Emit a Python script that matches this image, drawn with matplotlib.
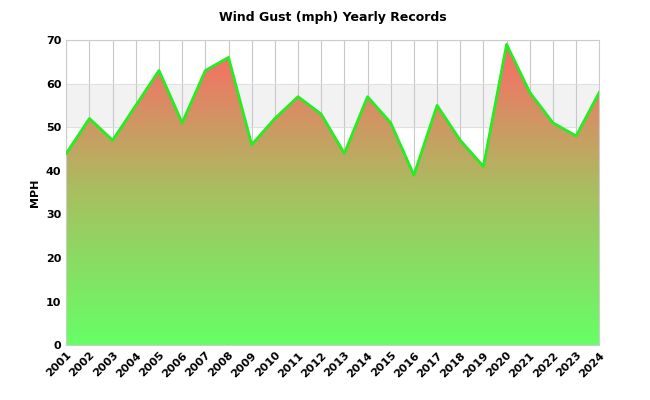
import matplotlib
matplotlib.use("Agg")
import matplotlib.pyplot as plt
import numpy as np
from matplotlib.colors import LinearSegmentedColormap
from matplotlib.patches import Polygon

years = list(range(2001, 2025))
values = [44, 52, 47, 55, 63, 51, 63, 66, 46, 52, 57, 53, 44, 57, 51, 39, 55, 47, 41, 69, 58, 51, 48, 58]

fig = plt.figure(figsize=(6.5, 4.0), dpi=100)
ax = fig.add_axes([0.102, 0.137, 0.82, 0.763])
ax.set_xlim(years[0], years[-1])
ax.set_ylim(0, 70)
for lo in range(0, 70, 20):
    ax.axhspan(lo + 10, lo + 20, color="#f2f2f2", zorder=0)
for y in years:
    ax.axvline(y, color="#c8c8c8", lw=0.8, zorder=0.5)
for v in range(0, 71, 10):
    ax.axhline(v, color="#dddddd", lw=0.6, zorder=0.5)

cmap = LinearSegmentedColormap.from_list("g", ["#66ff66", "#a8bf60", "#ff6666"])
grad = np.linspace(0, 1, 256).reshape(-1, 1)
im = ax.imshow(grad, cmap=cmap, aspect="auto", origin="lower",
               extent=[years[0], years[-1], 0, 70], zorder=1)
verts = [(years[0], 0)] + list(zip(years, values)) + [(years[-1], 0)]
poly = Polygon(verts, closed=True, facecolor="none", edgecolor="none", transform=ax.transData)
ax.add_patch(poly)
im.set_clip_path(poly)
ax.plot(years, values, color="#22ee22", lw=2, zorder=3)

ax.set_xticks(years)
ax.set_xticklabels([str(y) for y in years], rotation=45, ha="right", rotation_mode="anchor",
                   fontsize=8, fontweight="bold")
ax.set_yticks(range(0, 71, 10))
ax.tick_params(axis="y", labelsize=8, length=0)
ax.tick_params(axis="x", length=0)
for l in ax.get_yticklabels():
    l.set_fontweight("bold")
ax.set_ylabel("MPH", fontsize=8, fontweight="bold")
for s in ax.spines.values():
    s.set_color("#cccccc")
ax.set_title("Wind Gust (mph) Yearly Records", fontsize=9, fontweight="bold", pad=14)
fig.savefig("out.png", dpi=100)
